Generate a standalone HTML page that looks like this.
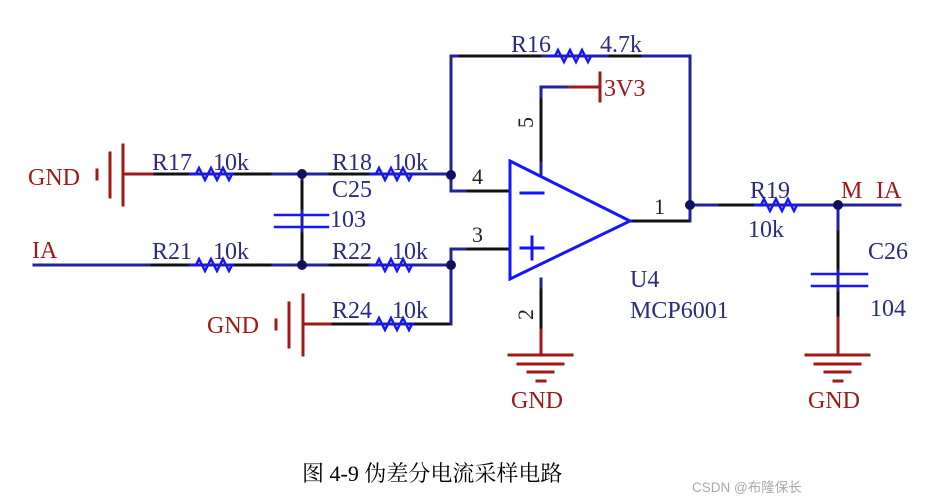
<!DOCTYPE html>
<html><head><meta charset="utf-8"><style>
html,body{margin:0;padding:0;background:#fff;}
svg{display:block;}
text{font-family:"Liberation Serif","Noto Serif CJK SC",serif;}
</style></head><body>
<svg width="949" height="504" viewBox="0 0 949 504" xmlns="http://www.w3.org/2000/svg">
<g fill="none" stroke-width="3" stroke-linecap="square">
<g stroke="#22229a">
<polyline points="451,175 451,56 690,56 690,221 630,221"/>
<polyline points="451,175 451,191 510,191"/>
<polyline points="451,265 451,249 510,249"/>
<polyline points="451,265 451,324 303,324"/>
<line x1="123" y1="174" x2="451" y2="174"/>
<line x1="34" y1="265" x2="451" y2="265"/>
<line x1="302" y1="174" x2="302" y2="265"/>
<polyline points="541,176 541,87 600,87"/>
<line x1="541" y1="279" x2="541" y2="354"/>
<line x1="690" y1="205" x2="900" y2="205"/>
<line x1="838" y1="205" x2="838" y2="354"/>
</g>
<g stroke="#111">
<line x1="152" y1="174" x2="190" y2="174"/>
<line x1="233" y1="174" x2="270" y2="174"/>
<line x1="330" y1="174" x2="370" y2="174"/>
<line x1="152" y1="265" x2="190" y2="265"/>
<line x1="233" y1="265" x2="270" y2="265"/>
<line x1="330" y1="265" x2="370" y2="265"/>
<line x1="330" y1="324" x2="370" y2="324"/>
<line x1="411" y1="324" x2="448" y2="324"/>
<line x1="302" y1="182" x2="302" y2="208"/>
<line x1="302" y1="234" x2="302" y2="258"/>
<line x1="468" y1="191" x2="508" y2="191"/>
<line x1="468" y1="249" x2="508" y2="249"/>
<line x1="633" y1="221" x2="688" y2="221"/>
<line x1="541" y1="100" x2="541" y2="160"/>
<line x1="541" y1="290" x2="541" y2="330"/>
<line x1="720" y1="205" x2="755" y2="205"/>
<line x1="838" y1="232" x2="838" y2="268"/>
<line x1="838" y1="293" x2="838" y2="318"/>
<line x1="460" y1="56" x2="540" y2="56"/>
<line x1="610" y1="56" x2="640" y2="56"/>
</g>
<g stroke="#a01818">
<line x1="123" y1="174" x2="152" y2="174"/>
<line x1="123" y1="145" x2="123" y2="205"/>
<line x1="110" y1="153" x2="110" y2="197"/>
<line x1="97" y1="170" x2="97" y2="179"/>
<line x1="303" y1="324" x2="330" y2="324"/>
<line x1="303" y1="295" x2="303" y2="355"/>
<line x1="289" y1="303" x2="289" y2="347"/>
<line x1="276" y1="320" x2="276" y2="329"/>
<line x1="570" y1="87" x2="600" y2="87"/>
<line x1="600" y1="73" x2="600" y2="101"/>
<line x1="541" y1="330" x2="541" y2="355"/>
<line x1="509" y1="355" x2="572" y2="355"/>
<line x1="518" y1="364" x2="563" y2="364"/>
<line x1="528" y1="372" x2="553" y2="372"/>
<line x1="537" y1="381" x2="545" y2="381"/>
<line x1="838" y1="318" x2="838" y2="355"/>
<line x1="806" y1="355" x2="869" y2="355"/>
<line x1="815" y1="364" x2="860" y2="364"/>
<line x1="825" y1="372" x2="850" y2="372"/>
<line x1="834" y1="381" x2="842" y2="381"/>
</g>
<g stroke="#1515ff" stroke-width="2.5" stroke-linejoin="miter">
<polyline points="190,174 196,174 199,168 205,180 211,168 217,180 223,168 229,180 232,174 233,174"/>
<polyline points="370,174 376,174 379,168 385,180 391,168 397,180 403,168 409,180 412,174 413,174"/>
<polyline points="190,265 196,265 199,259 205,271 211,259 217,271 223,259 229,271 232,265 233,265"/>
<polyline points="370,265 376,265 379,259 385,271 391,259 397,271 403,259 409,271 412,265 413,265"/>
<polyline points="370,324 376,324 379,318 385,330 391,318 397,330 403,318 409,330 412,324 413,324"/>
<polyline points="549,56 555,56 558,50 564,62 570,50 576,62 582,50 588,62 591,56 593,56"/>
<polyline points="755,205 761,205 764,199 770,211 776,199 782,211 788,199 794,211 797,205 799,205"/>
<line x1="275" y1="215" x2="328" y2="215"/>
<line x1="275" y1="227" x2="328" y2="227"/>
<line x1="812" y1="274" x2="867" y2="274"/>
<line x1="812" y1="286" x2="867" y2="286"/>
<polygon points="510,161 630,221 510,279" stroke-width="3"/>
<line x1="521" y1="193" x2="543" y2="193" stroke-width="3"/>
<line x1="521" y1="248" x2="543" y2="248" stroke-width="3"/>
<line x1="532" y1="237" x2="532" y2="259" stroke-width="3"/>
</g>
</g>
<g fill="#101060">
<circle cx="302" cy="174" r="5"/><circle cx="302" cy="265" r="5"/>
<circle cx="451" cy="175" r="5"/><circle cx="451" cy="265" r="5"/>
<circle cx="690" cy="205" r="5"/><circle cx="838" cy="205" r="5"/>
</g>
<g font-size="24" fill="#2b2b80">
<text x="152" y="170">R17</text><text x="213" y="170">10k</text>
<text x="332" y="170">R18</text><text x="392" y="170">10k</text>
<text x="332" y="197">C25</text><text x="330" y="227">103</text>
<text x="152" y="259">R21</text><text x="213" y="259">10k</text>
<text x="332" y="259">R22</text><text x="392" y="259">10k</text>
<text x="332" y="318">R24</text><text x="392" y="318">10k</text>
<text x="511" y="52">R16</text><text x="600" y="52">4.7k</text>
<text x="750" y="198">R19</text><text x="748" y="237">10k</text>
<text x="868" y="259">C26</text><text x="870" y="316">104</text>
<text x="630" y="287">U4</text><text x="630" y="318">MCP6001</text>
</g>
<g font-size="22" fill="#222">
<text x="472" y="184">4</text><text x="472" y="242">3</text><text x="654" y="214">1</text>
<text transform="translate(533,128) rotate(-90)">5</text>
<text transform="translate(533,320) rotate(-90)">2</text>
</g>
<g font-size="24" fill="#a01818">
<text x="28" y="185">GND</text><text x="207" y="333">GND</text>
<text x="32" y="258">IA</text>
<text x="604" y="96">3V3</text>
<text x="511" y="408">GND</text><text x="808" y="408">GND</text>
<text x="841" y="198">M</text><text x="876" y="198">IA</text>
</g>
<text x="302" y="481" font-size="22" fill="#000">图 4-9 伪差分电流采样电路</text>
<text x="692" y="492" font-size="13.5" fill="#aaa" style="font-family:'Liberation Sans','Noto Sans CJK SC',sans-serif">CSDN @布隆保长</text>
</svg>
</body></html>
